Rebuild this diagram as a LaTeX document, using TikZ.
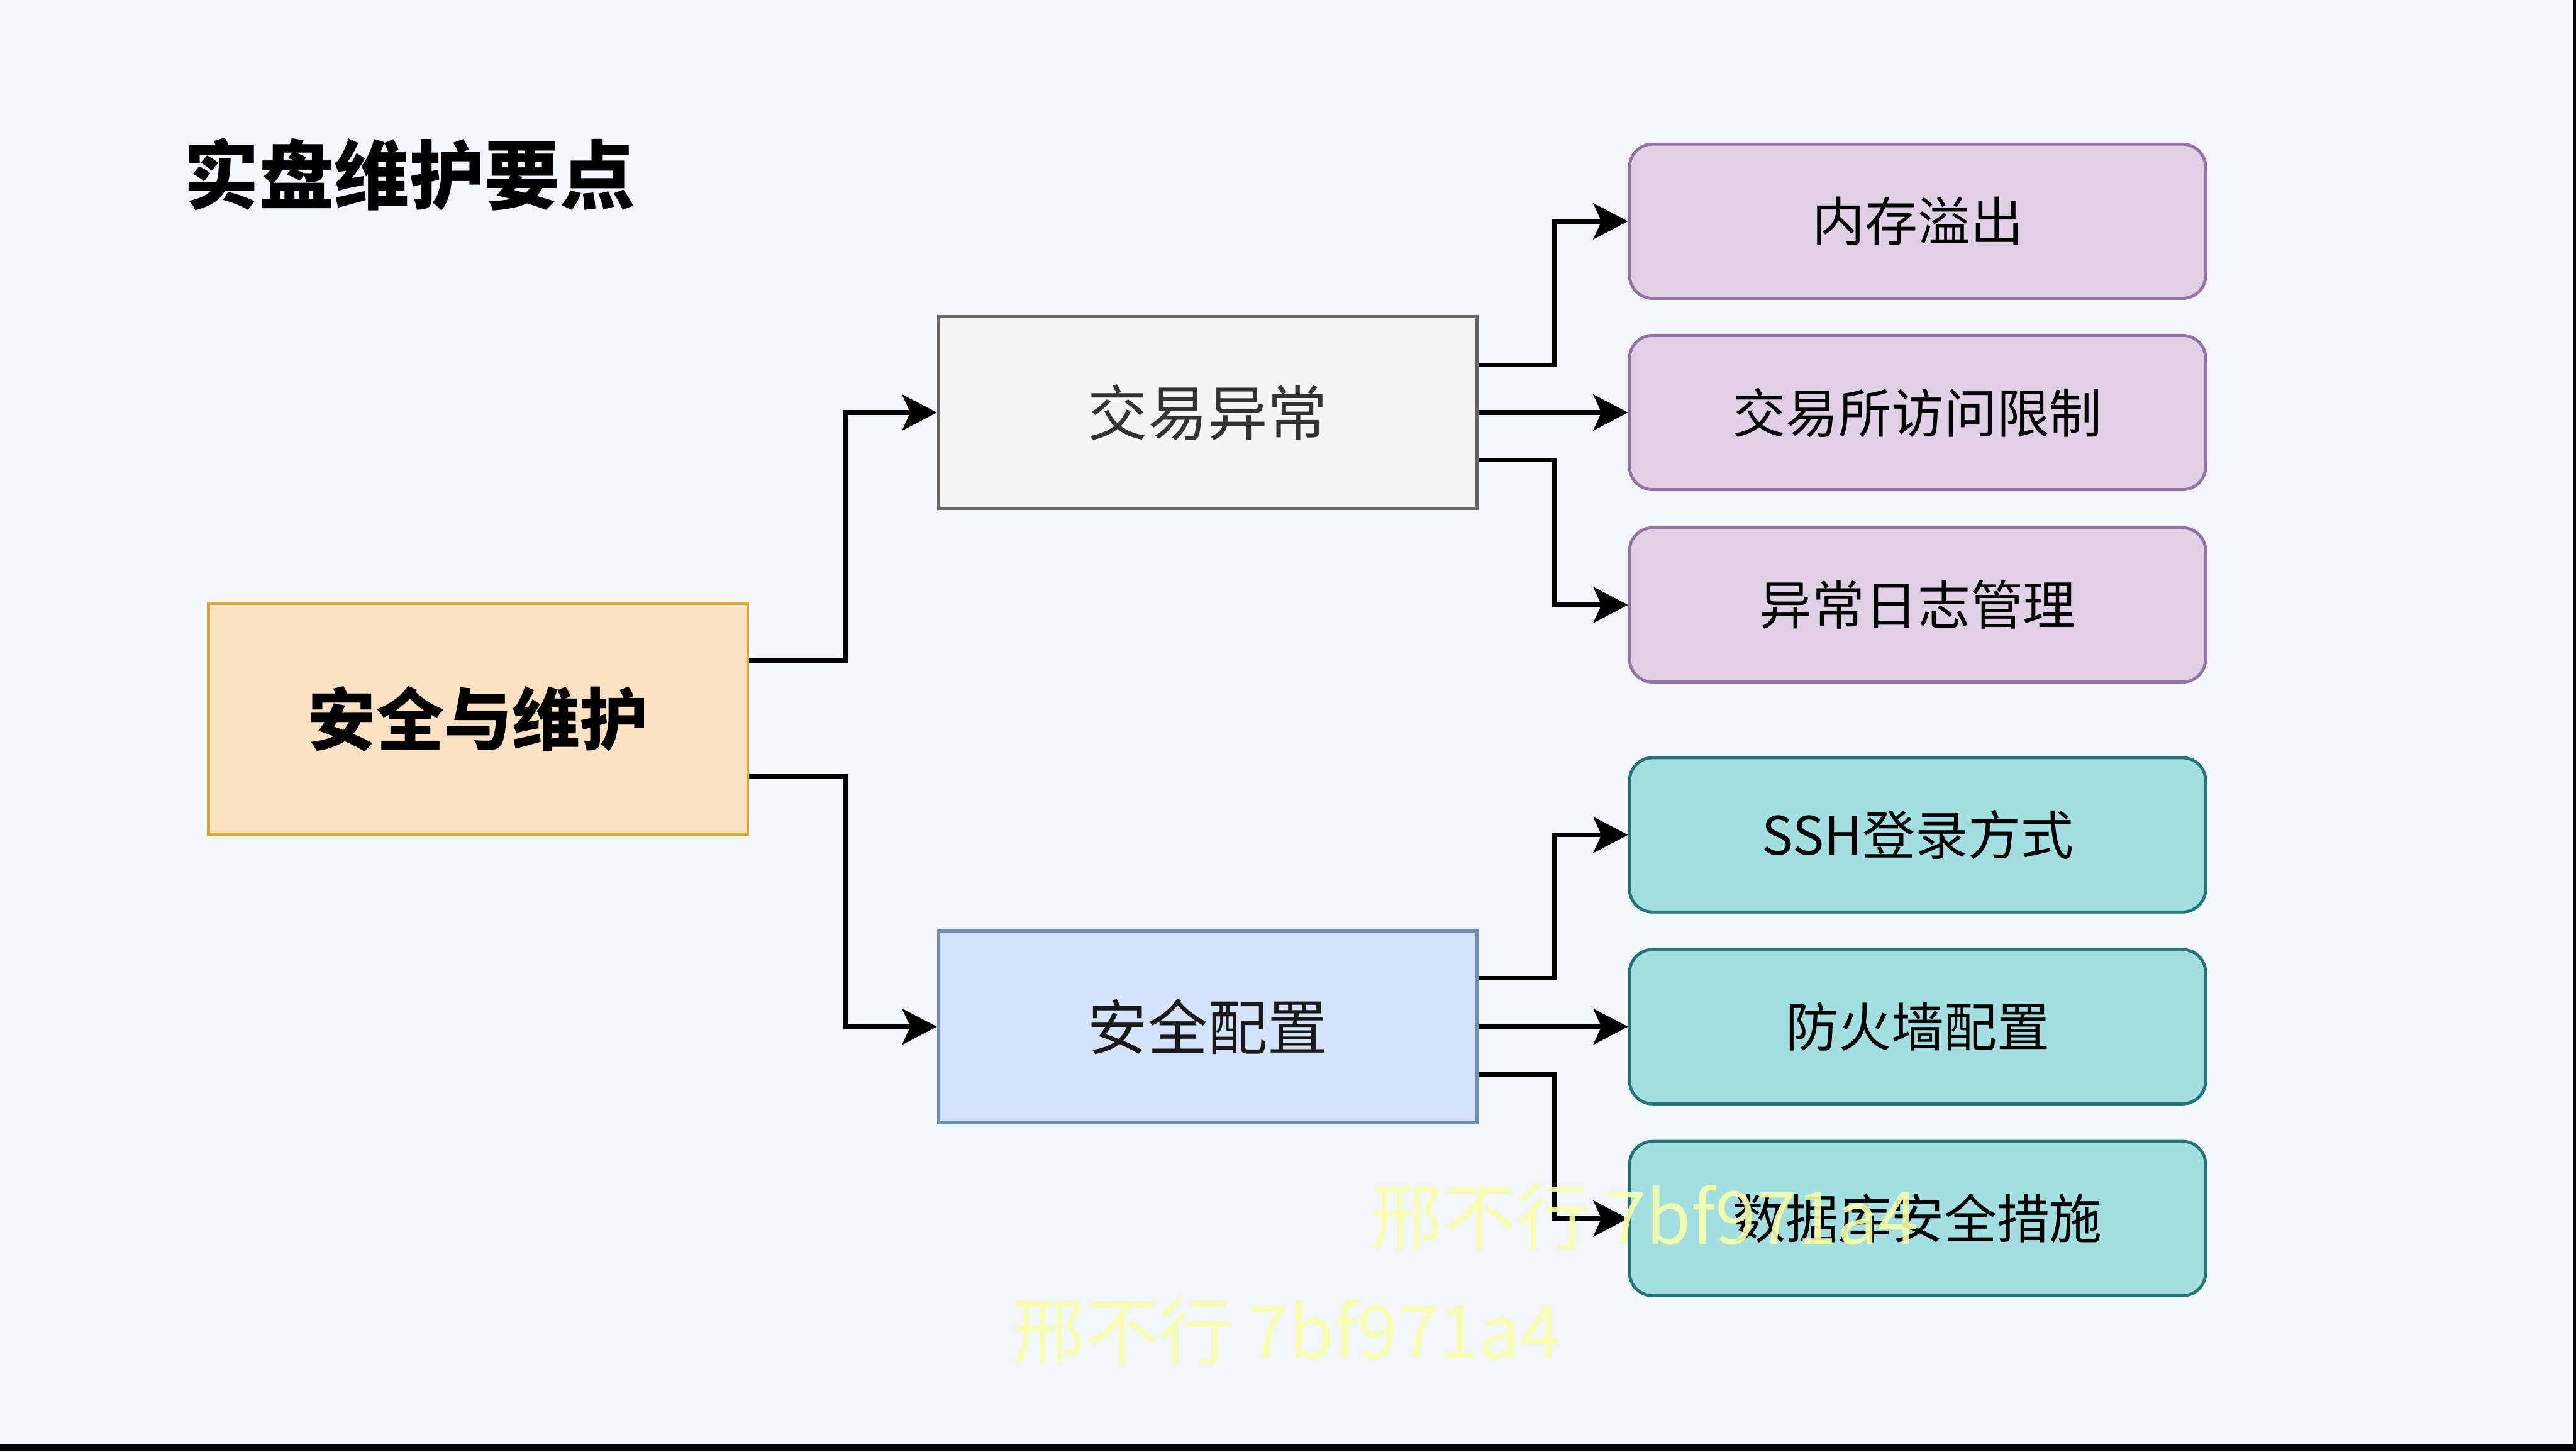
\documentclass[tikz,border=0pt]{standalone}
\usepackage{fontspec}
\setmainfont{Noto Sans CJK SC}
\usetikzlibrary{arrows.meta}
\definecolor{bgcol}{HTML}{F3F6FD}
\definecolor{rootfill}{HTML}{FCE1C2}
\definecolor{rootline}{HTML}{DCA63C}
\definecolor{exfill}{HTML}{F4F4F4}
\definecolor{exline}{HTML}{666666}
\definecolor{secfill}{HTML}{D5E3FA}
\definecolor{secline}{HTML}{6C8EBF}
\definecolor{purfill}{HTML}{DFD0E6}
\definecolor{purline}{HTML}{9673A6}
\definecolor{tealfill}{HTML}{A3DFE0}
\definecolor{tealline}{HTML}{22767A}
\definecolor{wmark}{HTML}{F9FFA8}
\tikzset{
  box/.style={draw, line width=1.5pt, inner sep=0pt, minimum width=9.32cm, minimum height=3.32cm},
  leaf/.style={box, rounded corners=0.4cm, minimum width=9.97cm, minimum height=2.67cm, font=\fontsize{26}{30}\selectfont},
  arr/.style={line width=2.3pt, -{Stealth[length=0.6cm,width=0.62cm,inset=0.14cm]}},
  wm/.style={text=wmark, text opacity=0.9, font=\fontsize{36}{40}\selectfont}
}
\begin{document}
\begin{tikzpicture}
\fill [bgcol] (0,0) rectangle (44.58,25.12);
\useasboundingbox (0,0) rectangle (44.58,25.12);
\fill [black] (0,0) rectangle (44.58,0.12);
\fill [black] (44.52,0) rectangle (44.58,25.12);
\node (title) at (7.09,22.10) {\fontsize{37}{40}\selectfont\bfseries 实盘维护要点};
\node [box, fill=rootfill, draw=rootline, minimum width=9.33cm, minimum height=4cm, font=\fontsize{33.5}{36}\selectfont\bfseries] (root) at (8.275,12.68) {安全与维护};
\node [box, fill=exfill, draw=exline, text=black!80, font=\fontsize{29.5}{32}\selectfont] (ex) at (20.90,17.98) {交易异常};
\node [box, fill=secfill, draw=secline, text=black!90, font=\fontsize{29.5}{32}\selectfont] (sec) at (20.90,7.35) {安全配置};
\node [leaf, fill=purfill, draw=purline] (mem) at (33.185,21.29) {内存溢出};
\node [leaf, fill=purfill, draw=purline] (acc) at (33.185,17.98) {交易所访问限制};
\node [leaf, fill=purfill, draw=purline] (log) at (33.185,14.65) {异常日志管理};
\node [leaf, fill=tealfill, draw=tealline] (ssh) at (33.185,10.67) {SSH登录方式};
\node [leaf, fill=tealfill, draw=tealline] (fw) at (33.185,7.35) {防火墙配置};
\node [leaf, fill=tealfill, draw=tealline] (db) at (33.185,4.03) {数据库安全措施};
\draw [arr] ([yshift=1cm]root.east) -- ++(1.66,0) |- (ex.west);
\draw [arr] ([yshift=-1cm]root.east) -- ++(1.66,0) |- (sec.west);
\draw [arr] ([yshift=0.82cm]ex.east) -- ++(1.32,0) |- (mem.west);
\draw [arr] (ex.east) -- (acc.west);
\draw [arr] ([yshift=-0.82cm]ex.east) -- ++(1.32,0) |- (log.west);
\draw [arr] ([yshift=0.84cm]sec.east) -- ++(1.32,0) |- (ssh.west);
\draw [arr] (sec.east) -- (fw.west);
\draw [arr] ([yshift=-0.82cm]sec.east) -- ++(1.32,0) |- (db.west);
\node [wm] (wm1) at (28.46,4.07) {邢不行 7bf971a4};
\node [wm] (wm2) at (22.27,2.08) {邢不行 7bf971a4};
\end{tikzpicture}
\end{document}
